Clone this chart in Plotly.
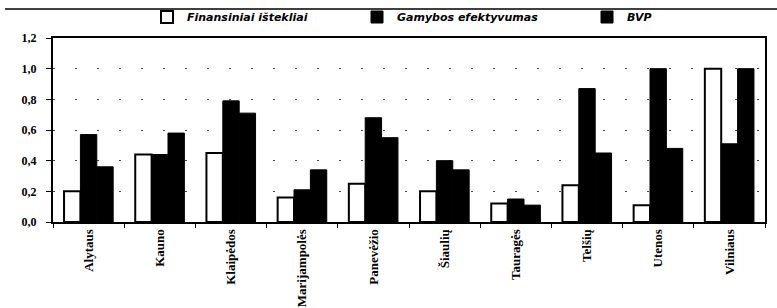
import plotly.graph_objects as go

categories = ["Alytaus", "Kauno", "Klaipėdos", "Marijampolės", "Panevėžio",
              "Šiaulių", "Tauragės", "Telšių", "Utenos", "Vilniaus"]
finansiniai = [0.20, 0.44, 0.45, 0.16, 0.25, 0.20, 0.12, 0.24, 0.11, 1.00]
gamybos = [0.57, 0.44, 0.79, 0.21, 0.68, 0.40, 0.15, 0.87, 1.00, 0.51]
bvp = [0.36, 0.58, 0.71, 0.34, 0.55, 0.34, 0.11, 0.45, 0.48, 1.00]
y_ticks = [0.0, 0.2, 0.4, 0.6, 0.8, 1.0, 1.2]

W, H = 777, 308
ml, mr, mt, mb = 53, 12, 38, 86
pw = W - ml - mr
ph = H - mt - mb

fig = go.Figure()
fig.add_bar(x=categories, y=finansiniai, name="Finansiniai ištekliai", legend="legend",
            marker=dict(color="white", line=dict(color="black", width=2)))
fig.add_bar(x=categories, y=gamybos, name="Gamybos efektyvumas", legend="legend2",
            marker=dict(color="black", line=dict(color="black", width=1)))
fig.add_bar(x=categories, y=bvp, name="BVP", legend="legend3",
            marker=dict(color="black", line=dict(color="black", width=1)))

leg_font = dict(family="DejaVu Sans", size=11, color="black",
                style="italic", weight="bold")


def leg(xpx):
    return dict(orientation="h", x=(xpx - ml) / pw, xanchor="left",
                y=1 + 21 / ph, yanchor="middle", font=leg_font,
                bgcolor="rgba(0,0,0,0)", itemwidth=30)


fig.update_layout(
    width=W, height=H,
    margin=dict(l=ml, r=mr, t=mt, b=mb, autoexpand=False),
    paper_bgcolor="white", plot_bgcolor="white",
    separators=", ",
    barmode="group", bargap=0.31, bargroupgap=0,
    showlegend=True,
    legend=leg(147), legend2=leg(357), legend3=leg(587),
    font=dict(family="Liberation Serif", color="black"),
    shapes=[dict(type="line", xref="paper", yref="paper",
                 x0=-(ml - 5) / pw, x1=1 + mr / pw,
                 y0=1 + 29 / ph, y1=1 + 29 / ph,
                 line=dict(color="black", width=1.5))],
)
fig.update_xaxes(showline=True, linecolor="black", linewidth=2, mirror=True,
                 ticks="outside", ticklen=4, tickcolor="black",
                 tickson="boundaries", tickangle=-90,
                 tickfont=dict(family="Liberation Serif", size=13, color="black",
                               weight="bold"))
fig.update_yaxes(range=[0, 1.2], tickvals=y_ticks, tickformat=".1f",
                 showline=True, linecolor="black", linewidth=2, mirror=True,
                 ticks="outside", ticklen=5, tickcolor="black",
                 ticklabelstandoff=7,
                 showgrid=True, gridcolor="#444", gridwidth=1, griddash="2px,20px",
                 zeroline=False,
                 tickfont=dict(family="Liberation Serif", size=12, color="black",
                               weight="bold"))

fig.write_html("out.html", config={"displayModeBar": False},
               post_script="document.body.style.margin='0px';"
                           "document.body.style.overflow='hidden';")
